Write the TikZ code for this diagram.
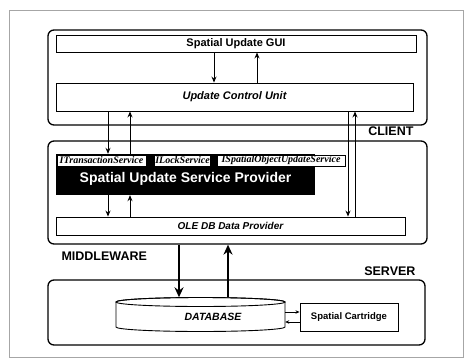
\documentclass[tikz,border=0pt]{standalone}
\usepackage{fontspec}
\setmainfont{Liberation Sans}
\newfontfamily\ifacefont{Liberation Serif}
\usetikzlibrary{positioning, arrows.meta}

\tikzset{
  layer/.style={draw, rounded corners=6pt, line width=1.3pt, inner sep=0pt},
  unit/.style={draw, line width=0.9pt, inner sep=0pt},
  iface/.style={draw, fill=white, line width=0.6pt, inner xsep=0.5pt, inner ysep=0.5pt,
    minimum height=11, font=\ifacefont\fontsize{10}{10}\selectfont\bfseries\itshape},
  tier/.style={inner sep=0pt, font=\fontsize{12.5}{13}\selectfont\bfseries},
  arr/.style={line width=0.9pt, -{Stealth[length=6pt, width=5pt]}},
  bigarr/.style={line width=2pt, -{Stealth[length=10pt, width=9pt]}},
  smallarr/.style={line width=0.7pt, -{Stealth[length=4pt, width=3.5pt]}}
}

\begin{document}
\begin{tikzpicture}[x=1pt, y=-1pt]
  \useasboundingbox (0,0) rectangle (468,361);
  \draw [gray!70, line width=0.5pt] (9,10) rectangle (463,357);

  % client
  \node [layer, minimum width=379, minimum height=95] (client) at (237.5,77.5) {};
  \node [unit, minimum width=360, minimum height=17,
    font=\fontsize{11}{12}\selectfont\bfseries] (gui) at (236,43.5) {Spatial Update GUI};
  \node [unit, minimum width=357, minimum height=28,
    font=\fontsize{11}{12}\selectfont\bfseries\itshape] (ucu) at (234.5,97) {Update Control Unit};
  \node [tier, below left=1pt and 14pt of client.south east] (clientlbl) {CLIENT};

  % middleware
  \node [layer, minimum width=379, minimum height=103] (mw) at (237.5,192.5) {};
  \node [fill=black, inner sep=0pt, minimum width=259, minimum height=41,
    label={[text=white, font=\fontsize{14}{15}\selectfont\bfseries, yshift=-4pt]center:Spatial Update Service Provider}]
    (susp) at (185.5,174.5) {};
  \node [iface, minimum width=89] (itrans) at (101.5,160.5) {ITransactionService};
  \node [iface, minimum width=55] (ilock) at (182.5,160.5) {ILockService};
  \node [iface, minimum width=128] (ispat) at (281,160.5) {ISpatialObjectUpdateService};
  \node [unit, minimum width=349, minimum height=18,
    font=\fontsize{10}{11}\selectfont\bfseries\itshape] (ole) at (230.5,226) {OLE DB Data Provider};
  \node [tier, below right=7pt and 14pt of mw.south west] (mwlbl) {MIDDLEWARE};

  % server
  \node [layer, minimum width=377, minimum height=65] (server) at (236.5,312.5) {};
  \node [tier, above left=4pt and 10pt of server.north east] (serverlbl) {SERVER};
  \node [inner sep=0pt, minimum width=169, minimum height=34] (db) at (200.5,314.5) {};
  \draw [line width=0.9pt, fill=white] (116,302) -- (116,327) arc (180:360:84.5pt and 4.5pt)
    -- (285,302) arc (0:180:84.5pt and 4.5pt);
  \draw [line width=0.9pt] (200.5,302) ellipse (84.5pt and 4.5pt);
  \node [font=\fontsize{10.5}{11}\selectfont\bfseries\itshape] (dbtext) at (213,317) {DATABASE};
  \node [unit, minimum width=98, minimum height=28,
    font=\fontsize{9.5}{10}\selectfont\bfseries] (cart) at (349,317) {Spatial Cartridge};

  % arrows
  \draw [arr] (gui.south -| 214,0) -- (ucu.north -| 214,0);
  \draw [arr] (ucu.north -| 257,0) -- (gui.south -| 257,0);
  \draw [arr] (ucu.south -| 108,0) -- (susp.north -| 108,0);
  \draw [arr] (susp.north -| 130,0) -- (ucu.south -| 130,0);
  \draw [arr] (susp.south -| 108,0) -- (ole.north -| 108,0);
  \draw [arr] (ole.north -| 130,0) -- (susp.south -| 130,0);
  \draw [arr] (ucu.south -| 348,0) -- (ole.north -| 348,0);
  \draw [arr] (ole.north -| 355,0) -- (ucu.south -| 355,0);
  \draw [bigarr] (mw.south -| 179,0) -- (db.north -| 179,0);
  \draw [bigarr] (db.north -| 228,0) -- (mw.south -| 228,0);
  \draw [smallarr] (db.east |- 0,312) -- (cart.west |- 0,312);
  \draw [smallarr] (cart.west |- 0,322) -- (db.east |- 0,322);
\end{tikzpicture}
\end{document}
